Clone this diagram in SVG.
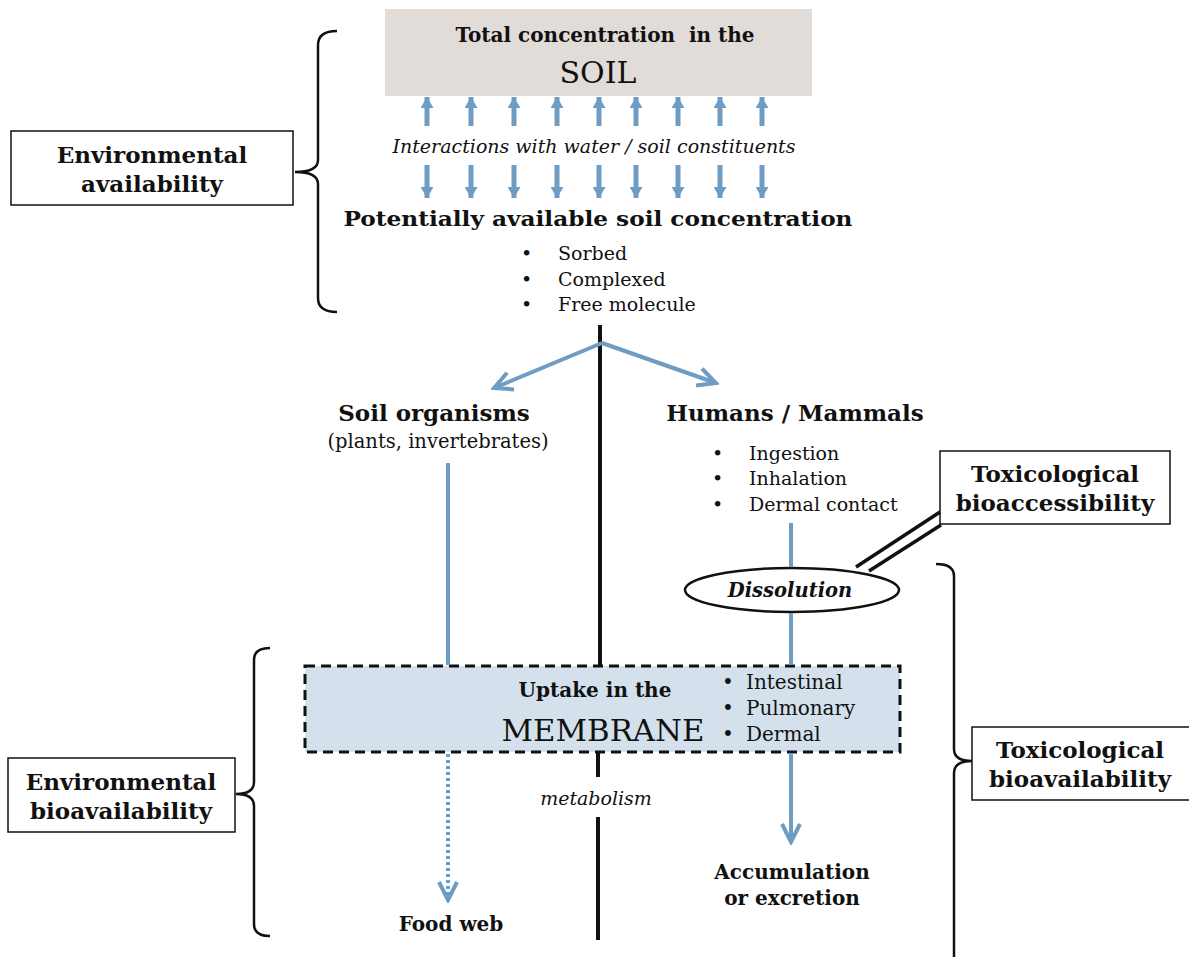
<svg xmlns="http://www.w3.org/2000/svg" width="1189" height="957" viewBox="0 0 1189 957">
<style>
text{font-family:"DejaVu Serif","Liberation Serif",serif;fill:#111}
.b{font-weight:bold}
.i{font-style:italic}
.lbl{font-size:23px;font-weight:bold}
.bl{font-size:19px}
.mb{font-size:20px}
.box{fill:#fff;stroke:#111;stroke-width:1.5}
.brace{fill:none;stroke:#111;stroke-width:2.5}
.blue{fill:none;stroke:#6e9cc3;stroke-width:4}
.sa{stroke:#6e9cc3;stroke-width:5}
.blk{stroke:#111;stroke-width:4}
</style>
<defs>
<marker id="tri" viewBox="0 0 10 10" refX="10" refY="5" markerWidth="11" markerHeight="13" markerUnits="userSpaceOnUse" orient="auto" preserveAspectRatio="none">
<path d="M0,0 L10,5 L0,10 z" fill="#6e9cc3"/>
</marker>
<marker id="vee" viewBox="0 0 24 24" refX="21" refY="12" markerWidth="24" markerHeight="24" markerUnits="userSpaceOnUse" orient="auto">
<path d="M3,3 L21,12 L3,21" fill="none" stroke="#6e9cc3" stroke-width="4"/>
</marker>
</defs>
<rect width="1189" height="957" fill="#fff"/>

<g id="soil">
<rect x="385" y="9" width="427" height="87" fill="#e2dcd9"/>
<text x="605" y="42" text-anchor="middle" class="b" font-size="20" xml:space="preserve" style="white-space:pre">Total concentration  in the</text>
<text x="598" y="83" text-anchor="middle" font-size="30">SOIL</text>
</g>

<g id="interactions">
<text x="594" y="153" text-anchor="middle" class="i" font-size="18" textLength="403" lengthAdjust="spacingAndGlyphs">Interactions with water / soil constituents</text>
</g>

<g id="potential">
<text x="598" y="226" text-anchor="middle" class="b" font-size="21" textLength="509" lengthAdjust="spacingAndGlyphs">Potentially available soil concentration</text>
<text x="521" y="260" class="bl">•</text><text x="558" y="260" class="bl">Sorbed</text>
<text x="521" y="286" class="bl">•</text><text x="558" y="286" class="bl">Complexed</text>
<text x="521" y="311" class="bl">•</text><text x="558" y="311" class="bl">Free molecule</text>
</g>

<g id="env-availability">
<rect class="box" x="11" y="131" width="282" height="74"/>
<text x="152" y="163" text-anchor="middle" class="lbl">Environmental</text>
<text x="152" y="192" text-anchor="middle" class="lbl">availability</text>
<path class="brace" d="M337,31 Q318,31 318,45 L318,160 Q318,172 295,172 Q318,172 318,184 L318,298 Q318,312 337,312"/>
</g>

<g id="soil-organisms">
<text x="434" y="421" text-anchor="middle" class="lbl">Soil organisms</text>
<text x="438" y="448" text-anchor="middle" font-size="19.5">(plants, invertebrates)</text>
</g>

<g id="humans">
<text x="795" y="421" text-anchor="middle" class="lbl">Humans / Mammals</text>
<text x="712" y="460" class="bl">•</text><text x="749" y="460" class="bl">Ingestion</text>
<text x="712" y="485" class="bl">•</text><text x="749" y="485" class="bl">Inhalation</text>
<text x="712" y="511" class="bl">•</text><text x="749" y="511" class="bl">Dermal contact</text>
</g>

<g id="tox-bioaccessibility">
<rect class="box" x="940" y="451" width="230" height="73"/>
<text x="1055" y="482" text-anchor="middle" class="lbl">Toxicological</text>
<text x="1055" y="511" text-anchor="middle" class="lbl">bioaccessibility</text>
</g>

<g id="dissolution">
<ellipse cx="792" cy="590" rx="107" ry="22" fill="#fff" stroke="#111" stroke-width="2.5"/>
<text x="790" y="597" text-anchor="middle" class="b i" font-size="19.5">Dissolution</text>
</g>

<g id="membrane">
<rect x="305" y="666" width="595" height="86" fill="#d4e1ec" stroke="#111" stroke-width="3" stroke-dasharray="10 6"/>
<text x="595" y="697" text-anchor="middle" class="b" font-size="20">Uptake in the</text>
<text x="603" y="741" text-anchor="middle" font-size="29" textLength="203" lengthAdjust="spacingAndGlyphs">MEMBRANE</text>
<text x="722" y="689" class="mb">•</text><text x="746" y="689" class="mb">Intestinal</text>
<text x="722" y="715" class="mb">•</text><text x="746" y="715" class="mb">Pulmonary</text>
<text x="722" y="741" class="mb">•</text><text x="746" y="741" class="mb">Dermal</text>
</g>

<g id="env-bioavailability">
<rect class="box" x="8" y="758" width="227" height="74"/>
<text x="121" y="790" text-anchor="middle" class="lbl">Environmental</text>
<text x="121" y="819" text-anchor="middle" class="lbl">bioavailability</text>
<path class="brace" d="M270,648 Q254,648 254,660 L254,782 Q254,794 236,794 Q254,794 254,806 L254,924 Q254,936 270,936"/>
</g>

<g id="tox-bioavailability">
<rect class="box" x="972" y="727" width="220" height="73"/>
<text x="1080" y="758" text-anchor="middle" class="lbl">Toxicological</text>
<text x="1080" y="787" text-anchor="middle" class="lbl">bioavailability</text>
<path class="brace" d="M936,564 Q954,564 954,576 L954,749 Q954,761 972,761 Q954,761 954,773 L954,960"/>
</g>

<g id="metabolism">
<text x="596" y="805" text-anchor="middle" class="i" font-size="19">metabolism</text>
</g>

<g id="food-web">
<text x="451" y="931" text-anchor="middle" class="b" font-size="20">Food web</text>
</g>

<g id="accumulation">
<text x="792" y="879" text-anchor="middle" class="b" font-size="20">Accumulation</text>
<text x="792" y="905" text-anchor="middle" class="b" font-size="20">or excretion</text>
</g>

<g id="connectors">
<g class="sa" marker-end="url(#tri)">
<line x1="427" y1="126" x2="427" y2="97"/><line x1="471" y1="126" x2="471" y2="97"/><line x1="514" y1="126" x2="514" y2="97"/>
<line x1="557" y1="126" x2="557" y2="97"/><line x1="599" y1="126" x2="599" y2="97"/><line x1="636" y1="126" x2="636" y2="97"/>
<line x1="678" y1="126" x2="678" y2="97"/><line x1="720" y1="126" x2="720" y2="97"/><line x1="762" y1="126" x2="762" y2="97"/>
<line x1="427" y1="165" x2="427" y2="198"/><line x1="471" y1="165" x2="471" y2="198"/><line x1="514" y1="165" x2="514" y2="198"/>
<line x1="557" y1="165" x2="557" y2="198"/><line x1="599" y1="165" x2="599" y2="198"/><line x1="636" y1="165" x2="636" y2="198"/>
<line x1="678" y1="165" x2="678" y2="198"/><line x1="720" y1="165" x2="720" y2="198"/><line x1="762" y1="165" x2="762" y2="198"/>
</g>
<line class="blk" x1="600" y1="325" x2="600" y2="665"/>
<line class="blk" x1="598" y1="753" x2="598" y2="777"/>
<line class="blk" x1="598" y1="817" x2="598" y2="940"/>
<line class="blue" x1="602" y1="343" x2="494" y2="388" marker-end="url(#vee)"/>
<line class="blue" x1="602" y1="343" x2="716" y2="383" marker-end="url(#vee)"/>
<line class="blue" x1="448" y1="463" x2="448" y2="665"/>
<line class="blue" x1="791" y1="523" x2="791" y2="567"/>
<line class="blue" x1="791" y1="613" x2="791" y2="665"/>
<line class="blue" x1="791" y1="753" x2="791" y2="842" marker-end="url(#vee)"/>
<line class="blue" x1="448" y1="754" x2="448" y2="900" stroke-dasharray="3 3" marker-end="url(#vee)"/>
<line stroke="#111" stroke-width="3.5" x1="856" y1="567" x2="940" y2="512"/>
<line stroke="#111" stroke-width="3.5" x1="869" y1="571" x2="941" y2="525"/>
</g>
</svg>
